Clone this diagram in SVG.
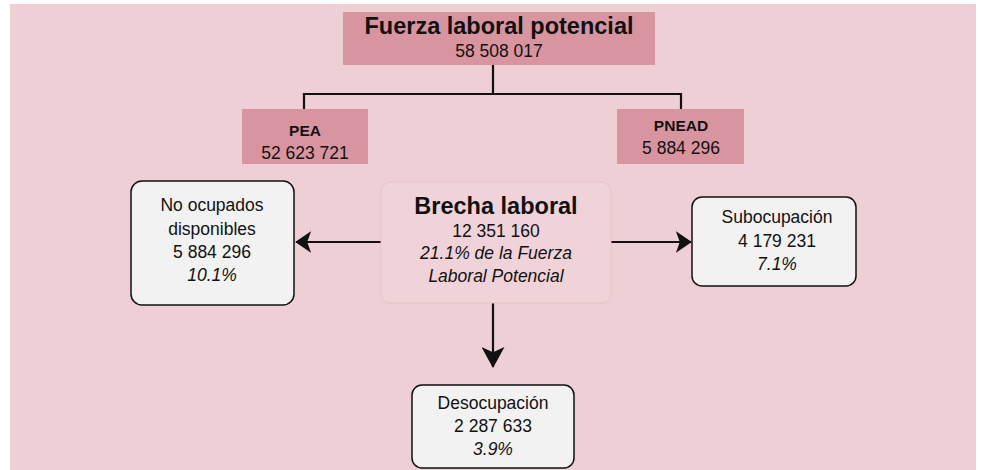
<svg xmlns="http://www.w3.org/2000/svg" width="982" height="470" viewBox="0 0 982 470">
<style>
text{font-family:"Liberation Sans",Arial,sans-serif;fill:#111;text-anchor:middle;font-size:17.5px}
.b{font-weight:bold}
.i{font-style:italic}
.hdr{fill:#D9959F}
.box{fill:#F2F2F2;stroke:#111;stroke-width:1.5}
.ln{stroke:#111;stroke-width:2.2;fill:none}
</style>
<defs>
<marker id="ah" viewBox="0 0 20 20" refX="19" refY="10" markerWidth="16" markerHeight="22" markerUnits="userSpaceOnUse" orient="auto" preserveAspectRatio="none">
<path d="M0,0 L20,10 L0,20 L5,10 Z" fill="#111"/>
</marker>
<marker id="ahd" viewBox="0 0 20 20" refX="19" refY="10" markerWidth="21" markerHeight="23" markerUnits="userSpaceOnUse" orient="auto" preserveAspectRatio="none">
<path d="M0,0 L20,10 L0,20 L5,10 Z" fill="#111"/>
</marker>
</defs>
<rect x="10" y="4" width="966" height="466" fill="#EECFD5"/>
<g id="connectors">
<path class="ln" d="M493,65 V94 M304,109 V94 H681 V109"/>
<path class="ln" d="M383,242 H296" marker-end="url(#ah)"/>
<path class="ln" d="M611,242 H691" marker-end="url(#ah)"/>
<path class="ln" d="M493,303 V367" marker-end="url(#ahd)"/>
</g>
<g id="fuerza">
<rect class="hdr" x="343" y="12" width="312" height="53"/>
<text class="b" x="499" y="34" style="font-size:23.5px">Fuerza laboral potencial</text>
<text x="499" y="57">58 508 017</text>
</g>
<g id="pea">
<rect class="hdr" x="242" y="109" width="126" height="55"/>
<text class="b" x="305" y="136" style="font-size:15.5px">PEA</text>
<text x="305" y="159">52 623 721</text>
</g>
<g id="pnead">
<rect class="hdr" x="617" y="109" width="127" height="55"/>
<text class="b" x="681" y="131" style="font-size:15.5px">PNEAD</text>
<text x="681" y="154">5 884 296</text>
</g>
<g id="nodisp">
<rect class="box" x="131" y="181" width="163" height="124" rx="11"/>
<text x="212" y="211">No ocupados</text>
<text x="212" y="235">disponibles</text>
<text x="212" y="258">5 884 296</text>
<text class="i" x="212" y="281">10.1%</text>
</g>
<g id="brecha">
<rect x="381" y="182" width="230" height="121" rx="10" fill="#F0D3D8" stroke="#E3C3C9" stroke-width="1"/>
<text class="b" x="496" y="214" style="font-size:23.5px">Brecha laboral</text>
<text x="496" y="237">12 351 160</text>
<text class="i" x="496" y="259">21.1% de la Fuerza</text>
<text class="i" x="496" y="282">Laboral Potencial</text>
</g>
<g id="subocup">
<rect class="box" x="692" y="197" width="164" height="89" rx="10"/>
<text x="777" y="223">Subocupación</text>
<text x="777" y="247">4 179 231</text>
<text class="i" x="777" y="270">7.1%</text>
</g>
<g id="desocup">
<rect class="box" x="412" y="385" width="162" height="83" rx="10"/>
<text x="493" y="409">Desocupación</text>
<text x="493" y="432">2 287 633</text>
<text class="i" x="493" y="455">3.9%</text>
</g>
</svg>
